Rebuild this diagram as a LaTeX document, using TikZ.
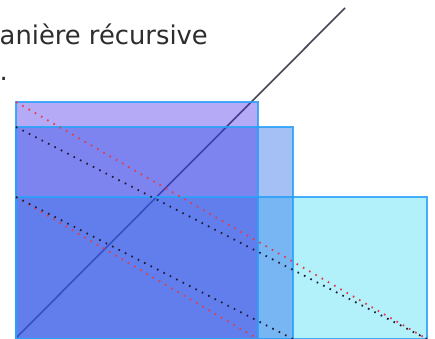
\documentclass[tikz,border=0pt]{standalone}
\usepackage{fontspec}
\newfontfamily\labelfont{DejaVu Sans}
\definecolor{fillA}{RGB}{68,42,230}
\definecolor{fillB}{RGB}{30,97,230}
\definecolor{fillC}{RGB}{0,205,240}
\definecolor{edgeblue}{RGB}{40,160,250}
\definecolor{diagray}{RGB}{70,70,85}
\definecolor{dotred}{RGB}{225,60,75}
\definecolor{dotblack}{RGB}{30,30,55}
\definecolor{txtgray}{RGB}{45,45,45}
\tikzset{
  rectbox/.style={draw=edgeblue, line width=1.6pt, draw opacity=0.85},
  dotline/.style={line width=1.8pt, dash pattern=on 1.6pt off 5.6pt},
  diagline/.style={draw=diagray, line width=1.6pt},
  lbl/.style={font=\labelfont\fontsize{25.8}{31}\selectfont, text=txtgray, inner sep=0pt, anchor=base west}
}
\begin{document}
\begin{tikzpicture}[x=1pt,y=1pt]
\useasboundingbox (0,0) rectangle (435,338);
% corners
\coordinate (aTL) at (16,236);
\coordinate (aBR) at (258,-1);
\coordinate (bTL) at (16,211);
\coordinate (bBR) at (293,-1);
\coordinate (cTL) at (16,141);
\coordinate (cBR) at (427,-1);
\coordinate (lineS) at (16,0);
\coordinate (lineE) at (345,330);
% text
\node[lbl] (t1) at (-0.5,293) {anière récursive};
\node[lbl] (t2) at (-0.5,258) {.};
% diagonal line (under fills)
\draw[diagline] (lineS) -- (lineE);
% rectangles
\fill[fillC, fill opacity=0.3] (cTL) rectangle (cBR);
\fill[fillB, fill opacity=0.4] (bTL) rectangle (bBR);
\fill[fillA, fill opacity=0.4] (aTL) rectangle (aBR);
\draw[rectbox] (cTL) rectangle (cBR);
\draw[rectbox] (bTL) rectangle (bBR);
\draw[rectbox] (aTL) rectangle (aBR);
% dotted diagonals
\draw[dotline, dotred] (aTL) -- (cBR);
\draw[dotline, dotblack] (bTL) -- (cBR);
\draw[dotline, dotred] (cTL) -- (aBR);
\draw[dotline, dotblack] (cTL) -- (bBR);
\end{tikzpicture}
\end{document}
